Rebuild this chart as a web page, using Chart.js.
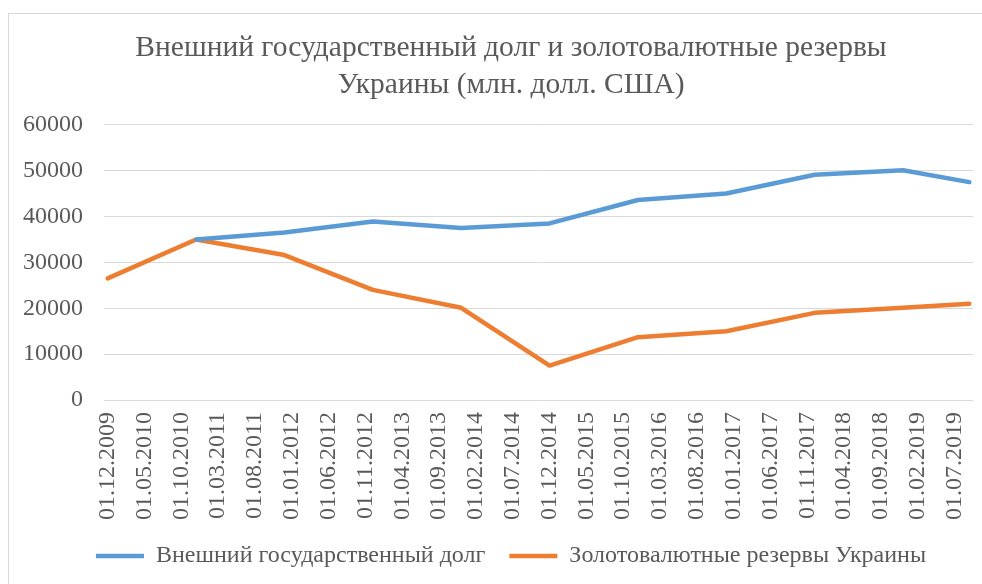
<!DOCTYPE html>
<html>
<head>
<meta charset="utf-8">
<script src="https://cdn.jsdelivr.net/npm/chart.js@4"></script>
<style>
  html, body { margin: 0; padding: 0; background: #fff; overflow: hidden; }
  #frame { position: absolute; left: 8px; top: 13px; width: 1100px; height: 700px; border: 1px solid #d9d9d9; }
  #chart { position: absolute; left: 0; top: 0; }
</style>
</head>
<body>
<div id="frame"></div>
<canvas id="chart" width="982" height="584"></canvas>
<script>
// data points (dd.mm.yyyy)
var dates = ['01.12.2009', '01.12.2010', '01.12.2011', '01.12.2012', '01.12.2013', '01.12.2014',
             '01.12.2015', '01.12.2016', '01.12.2017', '01.12.2018', '01.09.2019'];
var debt = [null, 35000, 36500, 38900, 37500, 38500, 43600, 45000, 49100, 50100, 47500];
var reserves = [26500, 35000, 31600, 24000, 20100, 7500, 13700, 15000, 19000, 20100, 21000];

var tickLabels = ['01.12.2009', '01.05.2010', '01.10.2010', '01.03.2011', '01.08.2011', '01.01.2012',
                  '01.06.2012', '01.11.2012', '01.04.2013', '01.09.2013', '01.02.2014', '01.07.2014',
                  '01.12.2014', '01.05.2015', '01.10.2015', '01.03.2016', '01.08.2016', '01.01.2017',
                  '01.06.2017', '01.11.2017', '01.04.2018', '01.09.2018', '01.02.2019', '01.07.2019'];

var seriesNames = ['Внешний государственный долг', 'Золотовалютные резервы Украины'];

// months since first date
function monthIndex(s) {
    var p = s.split('.');
    var f = dates[0].split('.');
    return (+p[2] - +f[2]) * 12 + (+p[1] - +f[1]);
}

function points(values) {
    return dates.map(function (d, i) { return { x: monthIndex(d), y: values[i] }; });
}

var textColor = '#595959';
var fontFamily = "'Liberation Serif', 'Times New Roman', serif";

// let the y labels run left of the layout padding without being clipped
var unclipY = {
    id: 'unclipY',
    afterLayout: function (chart) {
        chart.scales.y.left = 0;
    }
};

var ctx = document.getElementById('chart').getContext('2d');
new Chart(ctx, {
    type: 'line',
    data: {
        datasets: [{
            label: seriesNames[0],
            data: points(debt),
            borderColor: '#5b9bd5',
            backgroundColor: '#5b9bd5',
            borderWidth: 4.5,
            borderCapStyle: 'round',
            borderJoinStyle: 'round',
            pointRadius: 0,
            tension: 0
        }, {
            label: seriesNames[1],
            data: points(reserves),
            borderColor: '#ed7d31',
            backgroundColor: '#ed7d31',
            borderWidth: 4.5,
            borderCapStyle: 'round',
            borderJoinStyle: 'round',
            pointRadius: 0,
            tension: 0
        }]
    },
    plugins: [unclipY],
    options: {
        responsive: false,
        animation: false,
        layout: {
            padding: { left: 49, right: 9, top: 0, bottom: 6 }
        },
        plugins: {
            tooltip: { enabled: false },
            title: {
                display: true,
                text: ['Внешний государственный долг и золотовалютные резервы', 'Украины (млн. долл. США)'],
                color: textColor,
                font: { family: fontFamily, size: 29.5, weight: 'normal', lineHeight: 1.25 },
                padding: { top: 30, bottom: 21 }
            },
            legend: {
                position: 'bottom',
                labels: {
                    usePointStyle: true,
                    pointStyle: 'line',
                    pointStyleWidth: 48,
                    color: textColor,
                    font: { family: fontFamily, size: 24 },
                    padding: 12,
                    generateLabels: function (chart) {
                        var items = Chart.defaults.plugins.legend.labels.generateLabels(chart);
                        items[0].text += '  ';
                        return items;
                    }
                }
            }
        },
        scales: {
            x: {
                type: 'linear',
                min: -0.5,
                max: monthIndex(dates[dates.length - 1]) + 0.5,
                afterBuildTicks: function (scale) {
                    scale.ticks = tickLabels.map(function (t) { return { value: monthIndex(t) }; });
                },
                afterFit: function (scale) {
                    scale.paddingLeft = 0;
                    scale.paddingRight = 0;
                },
                ticks: {
                    autoSkip: false,
                    minRotation: 90,
                    maxRotation: 90,
                    padding: 12,
                    color: textColor,
                    font: { family: fontFamily, size: 24 },
                    callback: function (value, index) { return tickLabels[index]; }
                },
                grid: { display: false, drawTicks: false },
                border: { display: false }
            },
            y: {
                min: 0,
                max: 60000,
                afterFit: function (scale) { scale.width = 55; },
                ticks: {
                    stepSize: 10000,
                    padding: 21,
                    color: textColor,
                    font: { family: fontFamily, size: 24 },
                    callback: function (value) { return String(value); }
                },
                grid: { color: '#d9d9d9', lineWidth: 1, drawTicks: false },
                border: { display: false }
            }
        }
    }
});
</script>
</body>
</html>
